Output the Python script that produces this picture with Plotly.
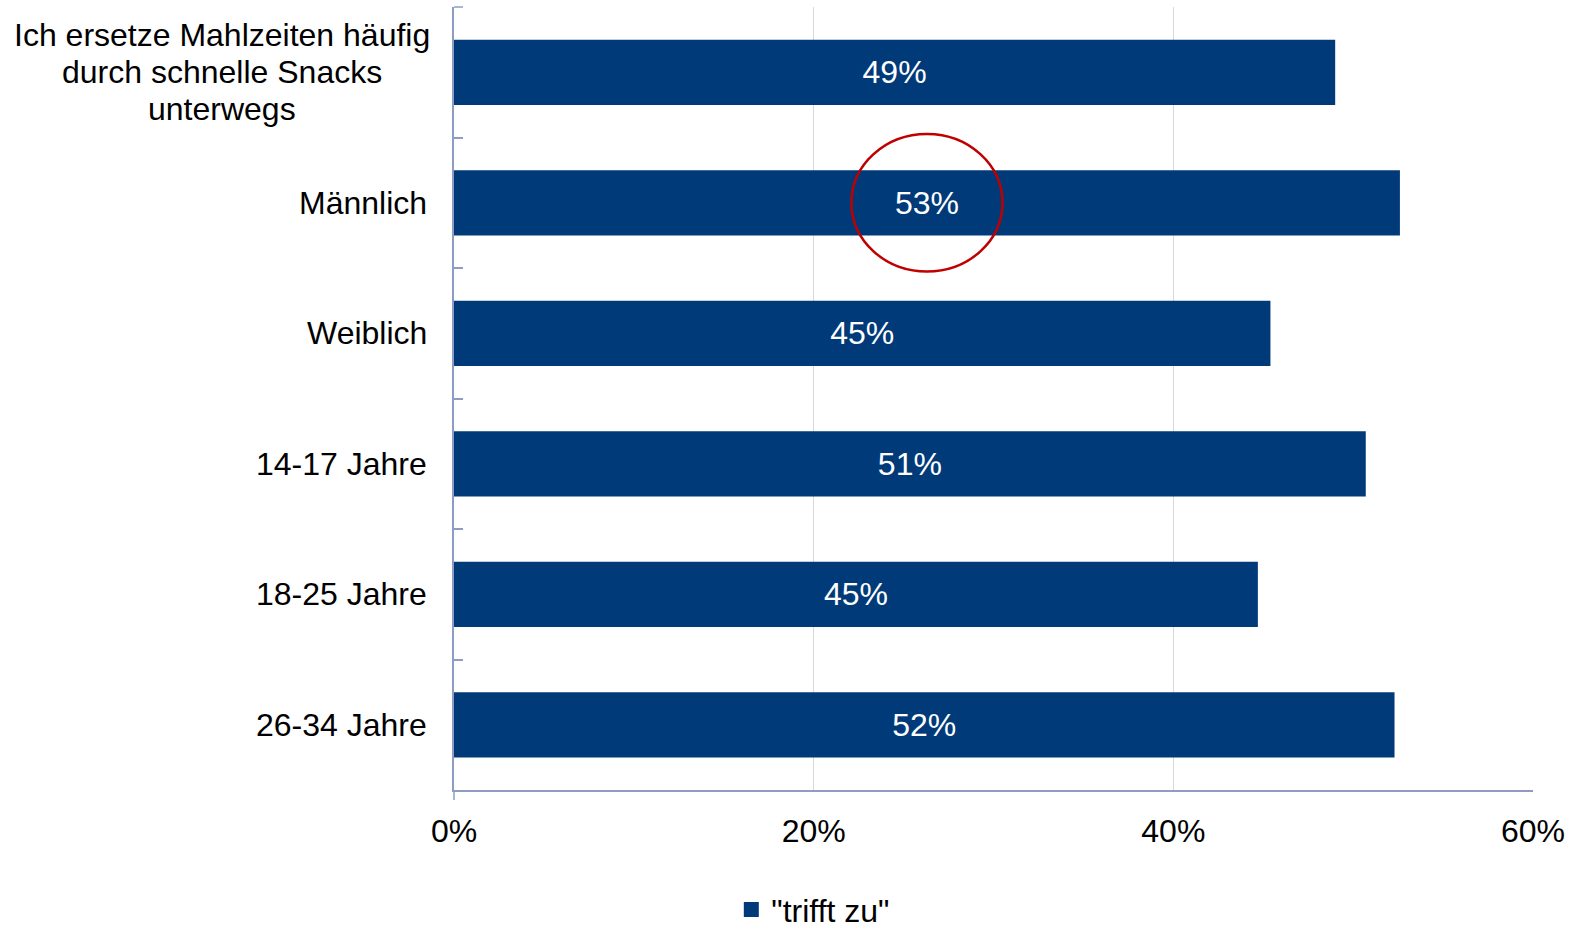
import plotly.graph_objects as go

categories = [
    "Ich ersetze Mahlzeiten häufig durch schnelle Snacks unterwegs",
    "Männlich",
    "Weiblich",
    "14-17 Jahre",
    "18-25 Jahre",
    "26-34 Jahre",
]
category_lines = [
    ["Ich ersetze Mahlzeiten häufig", "durch schnelle Snacks", "unterwegs"],
    ["Männlich"],
    ["Weiblich"],
    ["14-17 Jahre"],
    ["18-25 Jahre"],
    ["26-34 Jahre"],
]
values = [49.0, 52.6, 45.4, 50.7, 44.7, 52.3]
labels = ["49%", "53%", "45%", "51%", "45%", "52%"]
series_name = '"trifft zu"'
x_ticks = [0, 20, 40, 60]
x_tick_labels = ["0%", "20%", "40%", "60%"]

BAR = "#003A78"
AXIS = "#8E9CC4"
FONT = "Liberation Sans, Arial, sans-serif"
FS = 32

fig = go.Figure()
fig.add_trace(go.Bar(
    y=categories, x=values, orientation="h",
    name=series_name,
    marker=dict(color=BAR, line=dict(width=0)),
    text=labels, textposition="inside", insidetextanchor="middle",
    textfont=dict(color="white", size=FS, family=FONT),
    showlegend=False,
))
# legend entry with a larger square marker
fig.add_trace(go.Scatter(
    x=[None], y=[None], mode="markers", name=series_name,
    marker=dict(symbol="square", size=15, color=BAR),
    showlegend=True,
))

LINE_GAP = 37
for c, lines in zip(categories, category_lines):
    n = len(lines)
    multi = n > 1
    for i, ln in enumerate(lines):
        fig.add_annotation(
            x=-0.215 if multi else -0.023, xref="paper", y=c, yref="y", text=ln,
            xanchor="center" if multi else "right", yanchor="middle", align="center",
            yshift=-(i - (n - 1) / 2) * LINE_GAP,
            showarrow=False, font=dict(size=FS, family=FONT, color="black"),
        )

# highlight circle around the "Männlich" label
fig.add_shape(type="circle", xref="x", yref="y",
              x0=22.1, x1=30.5, y0=1 - 0.527, y1=1 + 0.527,
              line=dict(color="#C00000", width=2.5))
# top tick mark on the y axis
fig.add_shape(type="line", xref="paper", yref="paper", x0=0, x1=0.0083, y0=1, y1=1,
              line=dict(color=AXIS, width=1.5))
# small extension of the y axis below the x axis
fig.add_shape(type="line", xref="paper", yref="paper", x0=0, x1=0, y0=0, y1=-0.0128,
              line=dict(color=AXIS, width=1.5))

fig.update_layout(
    width=1577, height=930,
    margin=dict(l=454, r=44, t=7, b=140, autoexpand=False),
    paper_bgcolor="white", plot_bgcolor="white",
    bargap=0.5,
    font=dict(family=FONT, size=FS, color="black"),
    showlegend=True,
    legend=dict(orientation="h", x=0.333, xanchor="center", y=-0.153, yanchor="middle",
                font=dict(size=FS, family=FONT), itemwidth=30),
    xaxis=dict(range=[0, 60], tickvals=x_ticks, ticktext=x_tick_labels,
               showgrid=True, gridcolor="#D9D9D9", gridwidth=1,
               showline=True, linecolor=AXIS, linewidth=1.5,
               zeroline=False, ticks="", ticklabelstandoff=12,
               tickfont=dict(size=FS, family=FONT), automargin=False),
    yaxis=dict(autorange="reversed", showticklabels=False,
               showline=True, linecolor=AXIS, linewidth=1.5,
               ticks="inside", tickson="boundaries", ticklen=9, tickwidth=1.5, tickcolor=AXIS,
               showgrid=False, zeroline=False, automargin=False),
)

fig.write_html(
    "out.html",
    config={"displayModeBar": False},
    post_script="document.body.style.margin='0';document.body.style.padding='0';",
)
